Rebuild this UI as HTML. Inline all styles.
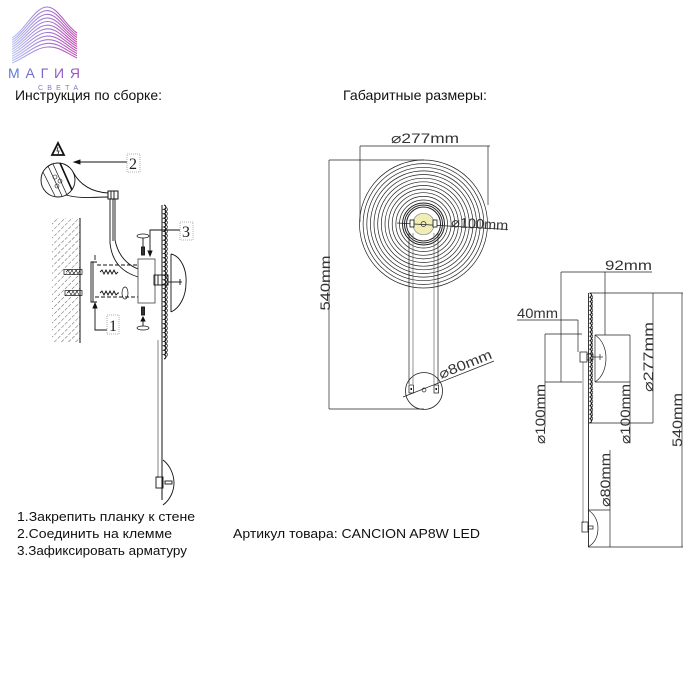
<!DOCTYPE html>
<html><head><meta charset="utf-8"><style>
html,body{margin:0;padding:0;background:#fff;}
svg{display:block;}
text{font-family:"Liberation Sans",Arial,sans-serif;}
</style></head><body>
<svg width="700" height="700" viewBox="0 0 700 700" xmlns="http://www.w3.org/2000/svg">
<defs>
<linearGradient id="lg" x1="0" y1="0" x2="1" y2="0">
<stop offset="0" stop-color="#b9c4f0"/><stop offset="0.5" stop-color="#a07ad6"/><stop offset="1" stop-color="#c04fae"/>
</linearGradient>
<linearGradient id="tg" x1="0" y1="0" x2="1" y2="0">
<stop offset="0" stop-color="#5b7fd4"/><stop offset="1" stop-color="#a04fc0"/>
</linearGradient>
<pattern id="hatch" width="5" height="5" patternUnits="userSpaceOnUse" patternTransform="rotate(45)">
<line x1="0" y1="0" x2="0" y2="3.5" stroke="#333" stroke-width="0.8"/>
</pattern>
</defs>
<rect width="700" height="700" fill="#fff"/>

<!-- LOGO -->
<g fill="none" stroke="url(#lg)" stroke-width="1.1">
<path d="M12,38 C25,30 35,7 47,7 C58,7 65,25 77,33"/>
<path d="M12,40.3 C25,32.5 35,10.7 47,10.6 C58,10.5 65,27.5 77,35.3"/>
<path d="M12,42.5 C25,35.1 35,14.5 47,14.3 C58,14.1 65,29.9 77,37.5"/>
<path d="M12,44.8 C25,37.6 35,18.2 47,17.9 C58,17.6 65,32.4 77,39.8"/>
<path d="M12,47.1 C25,40.2 35,21.9 47,21.5 C58,21.2 65,34.8 77,42.1"/>
<path d="M12,49.4 C25,42.7 35,25.6 47,25.2 C58,24.7 65,37.3 77,44.4"/>
<path d="M12,51.6 C25,45.3 35,29.4 47,28.8 C58,28.3 65,39.7 77,46.6"/>
<path d="M12,53.9 C25,47.8 35,33.1 47,32.5 C58,31.8 65,42.2 77,48.9"/>
<path d="M12,56.2 C25,50.4 35,36.8 47,36.1 C58,35.4 65,44.6 77,51.2"/>
<path d="M12,58.5 C25,52.9 35,40.5 47,39.7 C58,38.9 65,47.1 77,53.5"/>
<path d="M12,60.7 C25,55.5 35,44.3 47,43.4 C58,42.5 65,49.5 77,55.7"/>
<path d="M12,63 C25,58 35,48 47,47 C58,46 65,52 77,58"/>
</g>
<text x="8" y="78" font-size="14" fill="url(#tg)" textLength="72" lengthAdjust="spacing">МАГИЯ</text>
<text x="38" y="90" font-size="7" fill="#7a78cc" textLength="40" lengthAdjust="spacing">СВЕТА</text>

<!-- headers -->
<text x="15" y="100" font-size="14" fill="#111" textLength="147" lengthAdjust="spacingAndGlyphs">Инструкция по сборке:</text>
<text x="343" y="100" font-size="14" fill="#111" textLength="144" lengthAdjust="spacingAndGlyphs">Габаритные размеры:</text>

<!-- LEFT ASSEMBLY -->
<g stroke="#111" fill="none" stroke-width="0.9">
<polygon points="52,155 58,143 64,155" stroke-width="1.8" fill="#fff"/>
<path d="M58,147 L57,151 L59,151 L58,154" stroke-width="0.8"/>
<circle cx="58" cy="180" r="17"/>
<line x1="48" y1="166" x2="62" y2="196" stroke-width="0.7"/>
<line x1="53" y1="164" x2="67" y2="195" stroke-width="0.7"/>
<line x1="60" y1="163" x2="72" y2="190" stroke-width="1.6"/>
<line x1="43" y1="172" x2="55" y2="196" stroke-width="0.7"/>
<circle cx="55" cy="177" r="2" stroke-width="0.6"/>
<circle cx="60" cy="181" r="2" stroke-width="0.6"/>
<circle cx="57" cy="186" r="2" stroke-width="0.6"/>
<path d="M73,172 C80,185 92,192 108,193"/>
<path d="M66,195 C80,199 95,197 108,197"/>
<rect x="108" y="191" width="10" height="8" stroke-width="1"/>
<line x1="111" y1="191" x2="111" y2="199"/><line x1="114" y1="191" x2="114" y2="199"/>
<path d="M110,199 L110,243 C112,262 122,272 138,277"/>
<path d="M115,199 L115,240 C118,255 126,264 138,269"/>
<path d="M113,199 L113,241"/>
<line x1="78" y1="162" x2="127" y2="162"/>
<polygon points="74,162 80,160 80,164" fill="#111"/>
</g>
<rect x="127" y="154" width="13" height="18" fill="none" stroke="#999" stroke-width="0.8" stroke-dasharray="1,1"/>
<text x="129" y="169" font-size="16" fill="#222" style="font-family:'Liberation Serif',serif">2</text>

<rect x="52" y="218" width="28" height="125" fill="url(#hatch)"/>
<line x1="80" y1="218" x2="80" y2="343" stroke="#111" stroke-width="1"/>

<g stroke="#111" fill="none" stroke-width="0.9">
<path d="M97,262 L91,262 L91,302 L97,302"/>
<line x1="93" y1="262" x2="93" y2="302"/>
<line x1="95" y1="255" x2="95" y2="260"/>
<rect x="64" y="269.5" width="18" height="5" stroke-width="0.7"/>
<path d="M66,272 l2,-2 l2,4 l2,-4 l2,4 l2,-4 l2,4 l2,-4" stroke-width="0.6"/>
<rect x="65" y="290.5" width="17" height="5" stroke-width="0.7"/>
<path d="M67,293 l2,-2 l2,4 l2,-4 l2,4 l2,-4 l2,4" stroke-width="0.6"/>
<path d="M100,272 l2,-2 l2,4 l2,-4 l2,4 l2,-4 l2,4 l2,-4 l2,4 l2,-2 L118,272" stroke-width="0.9"/>
<path d="M100,293 l2,-2 l2,4 l2,-4 l2,4 l2,-4 l2,4 l2,-4 l2,4 l2,-2 L119,293" stroke-width="0.9"/>
<ellipse cx="125" cy="293" rx="3" ry="6" stroke-width="0.7"/>
<line x1="97" y1="265" x2="138" y2="265" stroke-dasharray="4,2"/>
<line x1="95" y1="297" x2="138" y2="297" stroke-dasharray="4,2"/>
<rect x="138" y="259" width="17" height="44" stroke="#555"/>
<rect x="154" y="275" width="14" height="10"/>
<line x1="158" y1="275" x2="158" y2="285"/><line x1="162" y1="275" x2="162" y2="285"/>
<ellipse cx="143" cy="236" rx="6" ry="2" stroke-width="0.7"/>
<line x1="143" y1="238" x2="143" y2="247"/>
<rect x="141.5" y="247" width="3" height="8" fill="#333"/>
<rect x="141.5" y="307" width="3" height="8" fill="#333"/>
<line x1="143" y1="318" x2="143" y2="326"/>
<polygon points="143,317 141,321 145,321" fill="#111"/>
<ellipse cx="143" cy="328" rx="6" ry="2" stroke-width="0.7"/>
<polyline points="150,253 150,230 180,230"/>
<polygon points="150,256 148,251 152,251" fill="#111"/>
<polyline points="95,305 95,330 107,330"/>
<polygon points="95,303 93,308 97,308" fill="#111"/>
<line x1="162" y1="205" x2="162" y2="500" stroke-width="1"/>
<line x1="158" y1="340" x2="158" y2="478" stroke="#777" stroke-width="0.9"/>
<line x1="171" y1="254" x2="171" y2="312"/>
<path d="M171,254 C181,256 187,270 186,283 C186,296 180,308 171,312"/>
<line x1="168" y1="282" x2="182" y2="282"/>
<line x1="180" y1="279" x2="180" y2="285"/>
<path d="M163,460 C171,466 174,476 174,483 C174,491 170,500 163,505"/>
<rect x="156" y="477" width="7" height="11"/>
<rect x="165" y="481" width="7" height="3"/>
<!-- scallops left -->
<path stroke-width="1.1" d="M164,205 a2.6,2.3 0 0 1 0,4.4 a2.6,2.3 0 0 1 0,4.4 a2.6,2.3 0 0 1 0,4.4 a2.6,2.3 0 0 1 0,4.4 a2.6,2.3 0 0 1 0,4.4 a2.6,2.3 0 0 1 0,4.4 a2.6,2.3 0 0 1 0,4.4 a2.6,2.3 0 0 1 0,4.4 a2.6,2.3 0 0 1 0,4.4 a2.6,2.3 0 0 1 0,4.4 a2.6,2.3 0 0 1 0,4.4 a2.6,2.3 0 0 1 0,4.4 a2.6,2.3 0 0 1 0,4.4 a2.6,2.3 0 0 1 0,4.4 a2.6,2.3 0 0 1 0,4.4 a2.6,2.3 0 0 1 0,4.4 a2.6,2.3 0 0 1 0,4.4 a2.6,2.3 0 0 1 0,4.4 a2.6,2.3 0 0 1 0,4.4 a2.6,2.3 0 0 1 0,4.4 a2.6,2.3 0 0 1 0,4.4 a2.6,2.3 0 0 1 0,4.4 a2.6,2.3 0 0 1 0,4.4 a2.6,2.3 0 0 1 0,4.4 a2.6,2.3 0 0 1 0,4.4 a2.6,2.3 0 0 1 0,4.4 a2.6,2.3 0 0 1 0,4.4 a2.6,2.3 0 0 1 0,4.4 a2.6,2.3 0 0 1 0,4.4 a2.6,2.3 0 0 1 0,4.4 a2.6,2.3 0 0 1 0,4.4 a2.6,2.3 0 0 1 0,4.4 a2.6,2.3 0 0 1 0,4.4 a2.6,2.3 0 0 1 0,4.4 a2.6,2.3 0 0 1 0,4.4"/>
<path stroke-width="0.7" d="M165.5,207.2 a2.6,2.3 0 0 1 0,4.4 a2.6,2.3 0 0 1 0,4.4 a2.6,2.3 0 0 1 0,4.4 a2.6,2.3 0 0 1 0,4.4 a2.6,2.3 0 0 1 0,4.4 a2.6,2.3 0 0 1 0,4.4 a2.6,2.3 0 0 1 0,4.4 a2.6,2.3 0 0 1 0,4.4 a2.6,2.3 0 0 1 0,4.4 a2.6,2.3 0 0 1 0,4.4 a2.6,2.3 0 0 1 0,4.4 a2.6,2.3 0 0 1 0,4.4 a2.6,2.3 0 0 1 0,4.4 a2.6,2.3 0 0 1 0,4.4 a2.6,2.3 0 0 1 0,4.4 a2.6,2.3 0 0 1 0,4.4 a2.6,2.3 0 0 1 0,4.4 a2.6,2.3 0 0 1 0,4.4 a2.6,2.3 0 0 1 0,4.4 a2.6,2.3 0 0 1 0,4.4 a2.6,2.3 0 0 1 0,4.4 a2.6,2.3 0 0 1 0,4.4 a2.6,2.3 0 0 1 0,4.4 a2.6,2.3 0 0 1 0,4.4 a2.6,2.3 0 0 1 0,4.4 a2.6,2.3 0 0 1 0,4.4 a2.6,2.3 0 0 1 0,4.4 a2.6,2.3 0 0 1 0,4.4 a2.6,2.3 0 0 1 0,4.4 a2.6,2.3 0 0 1 0,4.4 a2.6,2.3 0 0 1 0,4.4 a2.6,2.3 0 0 1 0,4.4 a2.6,2.3 0 0 1 0,4.4 a2.6,2.3 0 0 1 0,4.4"/>
</g>
<rect x="107" y="315" width="12" height="19" fill="none" stroke="#999" stroke-width="0.8" stroke-dasharray="1,1"/>
<text x="109" y="331" font-size="16" fill="#222" style="font-family:'Liberation Serif',serif">1</text>
<rect x="180" y="222" width="13" height="18" fill="none" stroke="#999" stroke-width="0.8" stroke-dasharray="1,1"/>
<text x="182" y="237" font-size="16" fill="#222" style="font-family:'Liberation Serif',serif">3</text>

<!-- FRONT VIEW -->
<g stroke="#222" fill="none" stroke-width="0.7">
<line x1="360" y1="146" x2="490" y2="146"/>
<line x1="360" y1="146" x2="360" y2="222"/>
<line x1="488" y1="146" x2="488" y2="205"/>
<line x1="329" y1="160" x2="424" y2="160"/>
<line x1="329" y1="160" x2="329" y2="409"/>
<line x1="329" y1="409" x2="424" y2="409"/>
<circle cx="423.5" cy="224" r="64"/>
<circle cx="423.5" cy="224" r="60.4"/>
<circle cx="423.5" cy="224" r="56.7"/>
<circle cx="423.5" cy="224" r="53.1"/>
<circle cx="423.5" cy="224" r="49.5"/>
<circle cx="423.5" cy="224" r="45.8"/>
<circle cx="423.5" cy="224" r="42.2"/>
<circle cx="423.5" cy="224" r="38.5"/>
<circle cx="423.5" cy="224" r="34.9"/>
<circle cx="423.5" cy="224" r="31.3"/>
<circle cx="423.5" cy="224" r="27.6"/>
<circle cx="423.5" cy="224" r="24"/>
<circle cx="423.5" cy="224" r="21" stroke-width="1"/>
<circle cx="423.5" cy="224" r="19" stroke-width="1"/>
<circle cx="423.5" cy="224" r="17" stroke-width="1"/>
<circle cx="423.5" cy="224" r="10.7" fill="#f1edb4" stroke="#888"/>
<circle cx="423.5" cy="224" r="2.5" stroke="#333"/>
<line x1="397" y1="223" x2="508" y2="229.5"/>
<rect x="410" y="220" width="4" height="7" fill="#fff" stroke="#111" stroke-width="0.8"/>
<rect x="433" y="220" width="4" height="7" fill="#fff" stroke="#111" stroke-width="0.8"/>
<line x1="409" y1="233" x2="409" y2="384"/>
<line x1="413" y1="233" x2="413" y2="384" stroke="#666"/>
<line x1="434" y1="233" x2="434" y2="384" stroke="#666"/>
<line x1="438" y1="233" x2="438" y2="384"/>
<circle cx="424" cy="391" r="18.5" stroke-width="0.8"/>
<circle cx="424" cy="390" r="2"/>
<rect x="409" y="385" width="4.5" height="8" fill="#fff" stroke="#111"/>
<rect x="434" y="385" width="4.5" height="8" fill="#fff" stroke="#111"/>
<line x1="403" y1="397" x2="494" y2="361"/>
</g>
<rect x="410.5" y="388" width="1.5" height="2" fill="#111"/>
<rect x="435.5" y="388" width="1.5" height="2" fill="#111"/>
<g fill="#333" font-size="14">
<text x="391" y="143" textLength="68" lengthAdjust="spacingAndGlyphs">⌀277mm</text>
<text x="0" y="0" transform="translate(451,227) rotate(3.3)" textLength="57" lengthAdjust="spacingAndGlyphs">⌀100mm</text>
<text x="0" y="0" transform="translate(441,379) rotate(-22)" textLength="56" lengthAdjust="spacingAndGlyphs">⌀80mm</text>
<text x="0" y="0" transform="translate(330,283) rotate(-90)" text-anchor="middle" textLength="55" lengthAdjust="spacingAndGlyphs">540mm</text>
</g>

<!-- SIDE VIEW -->
<g stroke="#222" fill="none" stroke-width="0.7">
<line x1="561" y1="272" x2="652" y2="272"/>
<line x1="561" y1="272" x2="561" y2="382"/>
<line x1="605" y1="272" x2="605" y2="335"/>
<line x1="517" y1="320" x2="578" y2="320"/>
<line x1="578" y1="320" x2="578" y2="352"/>
<line x1="545" y1="334" x2="582" y2="334"/>
<line x1="545" y1="382" x2="582" y2="382"/>
<line x1="545" y1="334" x2="545" y2="427"/>
<line x1="590" y1="293" x2="683" y2="293"/>
<line x1="653" y1="293" x2="653" y2="423"/>
<line x1="682" y1="293" x2="682" y2="547"/>
<line x1="588" y1="423" x2="653" y2="423"/>
<line x1="595" y1="335" x2="630" y2="335"/>
<line x1="630" y1="335" x2="630" y2="443"/>
<line x1="595" y1="382" x2="630" y2="382"/>
<line x1="595" y1="335" x2="595" y2="382"/>
<path d="M595,335 C603,340 606,350 606,358 C606,367 603,377 595,382"/>
<line x1="588.5" y1="293" x2="588.5" y2="547" stroke-width="0.9"/>
<line x1="583" y1="362" x2="583" y2="523" stroke="#666"/>
<line x1="588" y1="510" x2="610" y2="510"/>
<line x1="610" y1="450" x2="610" y2="547"/>
<line x1="588" y1="547" x2="683" y2="547"/>
<path d="M588,510 C595,514 598,522 598,528 C598,536 595,543 588,547"/>
<rect x="580" y="352" width="7" height="10" stroke="#111"/>
<rect x="587" y="354" width="6" height="6" stroke="#111"/>
<line x1="593" y1="357" x2="603" y2="357"/>
<line x1="600" y1="354" x2="600" y2="360"/>
<rect x="582" y="522" width="6" height="10" stroke="#111"/>
<rect x="588" y="526" width="5" height="3" stroke="#111"/>
<path stroke="#111" stroke-width="1" d="M589.5,293 a2.4,2.2 0 0 1 0,4.33 a2.4,2.2 0 0 1 0,4.33 a2.4,2.2 0 0 1 0,4.33 a2.4,2.2 0 0 1 0,4.33 a2.4,2.2 0 0 1 0,4.33 a2.4,2.2 0 0 1 0,4.33 a2.4,2.2 0 0 1 0,4.33 a2.4,2.2 0 0 1 0,4.33 a2.4,2.2 0 0 1 0,4.33 a2.4,2.2 0 0 1 0,4.33 a2.4,2.2 0 0 1 0,4.33 a2.4,2.2 0 0 1 0,4.33 a2.4,2.2 0 0 1 0,4.33 a2.4,2.2 0 0 1 0,4.33 a2.4,2.2 0 0 1 0,4.33 a2.4,2.2 0 0 1 0,4.33 a2.4,2.2 0 0 1 0,4.33 a2.4,2.2 0 0 1 0,4.33 a2.4,2.2 0 0 1 0,4.33 a2.4,2.2 0 0 1 0,4.33 a2.4,2.2 0 0 1 0,4.33 a2.4,2.2 0 0 1 0,4.33 a2.4,2.2 0 0 1 0,4.33 a2.4,2.2 0 0 1 0,4.33 a2.4,2.2 0 0 1 0,4.33 a2.4,2.2 0 0 1 0,4.33 a2.4,2.2 0 0 1 0,4.33 a2.4,2.2 0 0 1 0,4.33 a2.4,2.2 0 0 1 0,4.33 a2.4,2.2 0 0 1 0,4.33"/>
<path stroke="#111" stroke-width="0.6" d="M590.8,295.2 a2.4,2.2 0 0 1 0,4.33 a2.4,2.2 0 0 1 0,4.33 a2.4,2.2 0 0 1 0,4.33 a2.4,2.2 0 0 1 0,4.33 a2.4,2.2 0 0 1 0,4.33 a2.4,2.2 0 0 1 0,4.33 a2.4,2.2 0 0 1 0,4.33 a2.4,2.2 0 0 1 0,4.33 a2.4,2.2 0 0 1 0,4.33 a2.4,2.2 0 0 1 0,4.33 a2.4,2.2 0 0 1 0,4.33 a2.4,2.2 0 0 1 0,4.33 a2.4,2.2 0 0 1 0,4.33 a2.4,2.2 0 0 1 0,4.33 a2.4,2.2 0 0 1 0,4.33 a2.4,2.2 0 0 1 0,4.33 a2.4,2.2 0 0 1 0,4.33 a2.4,2.2 0 0 1 0,4.33 a2.4,2.2 0 0 1 0,4.33 a2.4,2.2 0 0 1 0,4.33 a2.4,2.2 0 0 1 0,4.33 a2.4,2.2 0 0 1 0,4.33 a2.4,2.2 0 0 1 0,4.33 a2.4,2.2 0 0 1 0,4.33 a2.4,2.2 0 0 1 0,4.33 a2.4,2.2 0 0 1 0,4.33 a2.4,2.2 0 0 1 0,4.33 a2.4,2.2 0 0 1 0,4.33 a2.4,2.2 0 0 1 0,4.33"/>
</g>
<g fill="#333" font-size="14">
<text x="605" y="270" textLength="47" lengthAdjust="spacingAndGlyphs">92mm</text>
<text x="517" y="318" textLength="41" lengthAdjust="spacingAndGlyphs">40mm</text>
<text x="0" y="0" transform="translate(653,357) rotate(-90)" text-anchor="middle" textLength="70" lengthAdjust="spacingAndGlyphs">⌀277mm</text>
<text x="0" y="0" transform="translate(545,414) rotate(-90)" text-anchor="middle" textLength="60" lengthAdjust="spacingAndGlyphs">⌀100mm</text>
<text x="0" y="0" transform="translate(630,414) rotate(-90)" text-anchor="middle" textLength="60" lengthAdjust="spacingAndGlyphs">⌀100mm</text>
<text x="0" y="0" transform="translate(682,420) rotate(-90)" text-anchor="middle" textLength="54" lengthAdjust="spacingAndGlyphs">540mm</text>
<text x="0" y="0" transform="translate(610,480) rotate(-90)" text-anchor="middle" textLength="54" lengthAdjust="spacingAndGlyphs">⌀80mm</text>
</g>

<!-- bottom text -->
<g fill="#111" font-size="13">
<text x="17" y="521" textLength="178" lengthAdjust="spacingAndGlyphs">1.Закрепить планку к стене</text>
<text x="17" y="538" textLength="155" lengthAdjust="spacingAndGlyphs">2.Соединить на клемме</text>
<text x="17" y="555" textLength="170" lengthAdjust="spacingAndGlyphs">3.Зафиксировать арматуру</text>
<text x="233" y="538" textLength="247" lengthAdjust="spacingAndGlyphs">Артикул товара: CANCION AP8W LED</text>
</g>
</svg>
</body></html>
